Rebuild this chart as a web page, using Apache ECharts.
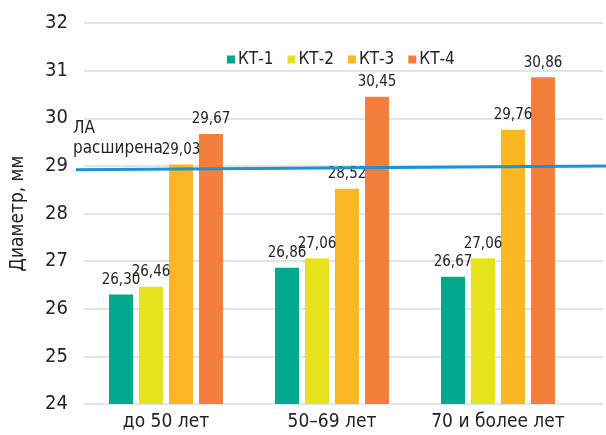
<!DOCTYPE html>
<html><head><meta charset="utf-8">
<script src="https://cdn.jsdelivr.net/npm/echarts@6/dist/echarts.min.js"></script>
<style>html,body{margin:0;padding:0;background:#fff}#c{width:606px;height:435px}</style>
</head><body><div id="c"></div>
<script>
const categories = ['до 50 лет', '50–69 лет', '70 и более лет'];
const seriesNames = ['КТ-1', 'КТ-2', 'КТ-3', 'КТ-4'];
const kt1 = [26.30, 26.86, 26.67];
const kt2 = [26.46, 27.06, 27.06];
const kt3 = [29.03, 28.52, 29.76];
const kt4 = [29.67, 30.45, 30.86];
const thresholdLine = [[0, 28.92], [1, 29.0]];
const thresholdLabel = 'ЛА\nрасширена';
const yTicks = {min: 24, max: 32, interval: 1};
const colors = ['#00A88E', '#E6E31E', '#FBB624', '#F47F3D'];

const FONT = "'DejaVu Sans Condensed', 'Roboto', sans-serif";
const chart = echarts.init(document.getElementById('c'));
const values = [kt1, kt2, kt3, kt4];
const fmt = v => v.toFixed(2).replace('.', ',');

const barSeries = values.map((d, i) => ({
  name: seriesNames[i], type: 'bar', xAxisIndex: 0, yAxisIndex: 0,
  data: d, barWidth: 24, barGap: '25%', itemStyle: {color: colors[i]},
  label: {show: true, position: 'top', distance: 7, color: '#222', fontSize: 15, fontFamily: FONT,
    formatter: p => fmt(p.value)}
}));

chart.setOption({
  animation: false,
  textStyle: {fontFamily: FONT},
  legend: {data: seriesNames, left: 222, top: 46, itemWidth: 8, itemHeight: 8, itemGap: 14,
    icon: 'rect', textStyle: {fontSize: 17, color: '#222', fontFamily: FONT, padding: [0,0,0,-2]}},
  grid: [
    {left: 83, right: 25, top: 23, bottom: 31},
    {left: 84, right: 3, top: 23, bottom: 31},
    {left: 76, right: 0, top: 23, bottom: 31}
  ],
  xAxis: [
    {type: 'category', gridIndex: 0, data: categories, axisLine: {show: false}, axisTick: {show: false},
      axisLabel: {interval: 0, hideOverlap: false, fontSize: 19, color: '#222', margin: 9, fontFamily: FONT}},
    {type: 'value', gridIndex: 1, min: 0, max: 1, show: false},
    {type: 'value', gridIndex: 2, min: 0, max: 1, show: false}
  ],
  yAxis: [
    {type: 'value', gridIndex: 0, ...yTicks, splitLine: {show: false}, axisLine: {show: false},
      axisTick: {show: false}, axisLabel: {fontSize: 20, color: '#222', margin: 15, fontFamily: FONT},
      name: 'Диаметр, мм', nameLocation: 'middle', nameGap: 55, nameRotate: 90,
      nameTextStyle: {fontSize: 19, color: '#222', fontFamily: FONT}},
    {type: 'value', gridIndex: 1, ...yTicks, axisLabel: {show: false}, axisLine: {show: false},
      axisTick: {show: false}, splitLine: {show: true, lineStyle: {color: '#d3dde4', width: 1.5}}},
    {type: 'value', gridIndex: 2, ...yTicks, show: false}
  ],
  series: [
    ...barSeries,
    {type: 'line', xAxisIndex: 2, yAxisIndex: 2, data: thresholdLine, symbol: 'none',
      lineStyle: {color: '#1B93D6', width: 3}, z: 5, silent: true}
  ],
  graphic: [
    {type: 'text', left: 73, top: 119, style: {text: thresholdLabel, fontSize: 17, lineHeight: 20,
      fill: '#222', fontFamily: FONT}}
  ]
});
</script></body></html>
